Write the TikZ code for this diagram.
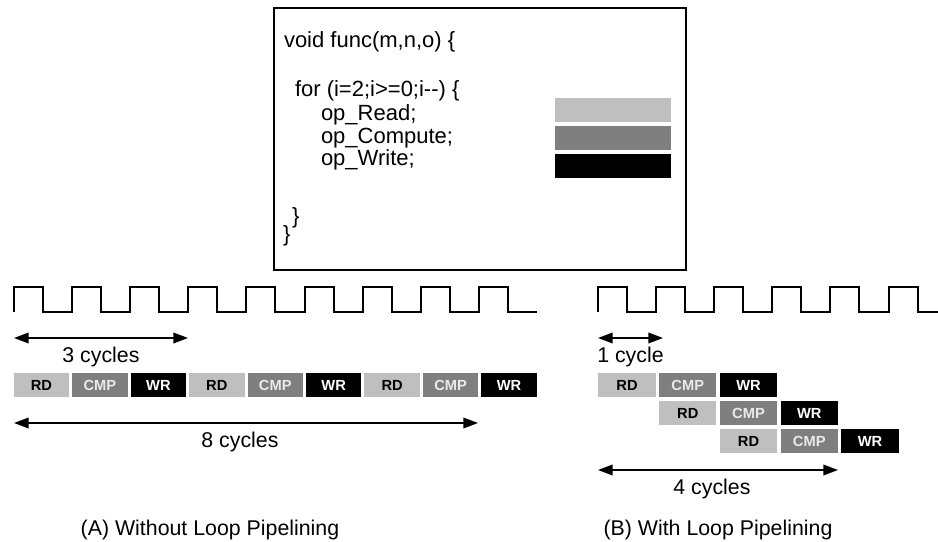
\documentclass[tikz,border=0pt]{standalone}
\usepackage{fontspec}
\setmainfont{Liberation Sans}
\definecolor{RD}{HTML}{BFBFBF}
\definecolor{CMP}{HTML}{7F7F7F}
\definecolor{WR}{HTML}{000000}
\definecolor{pale}{HTML}{EAEAEA}
\usetikzlibrary{arrows.meta}
\usetikzlibrary{positioning}
\tikzstyle{base}=[x=0.75pt, y=-0.75pt, inner sep=0pt, outer sep=0pt]
\tikzstyle{op}=[minimum height=18pt, font=\fontsize{11}{13}\selectfont\bfseries]
\tikzstyle{rdbox}=[op, fill=RD, text=black]
\tikzstyle{cmpbox}=[op, fill=CMP, text=pale]
\tikzstyle{wrbox}=[op, fill=WR, text=white]
\tikzstyle{clk}=[line width=1.5pt, line join=miter]
\tikzstyle{cyc}=[{Triangle[length=11pt,width=8pt]}-{Triangle[length=11pt,width=8pt]}, line width=1.1pt]
\tikzstyle{line}=[anchor=base west, font=\fontsize{16.5}{19}\selectfont]

\begin{document}
\begin{tikzpicture}[base]
    \fontsize{16}{19}\selectfont
    \path [use as bounding box] (0,0) rectangle (938,542);

    % the loop
    \node [draw, line width=2pt, minimum width=309pt, minimum height=196.5pt] (code) at (480,139) {};
    \node [line] (sig) at (284,48) {void func(m,n,o) \{};
    \node [line] (for) at (295,97) {for (i=2;i>=0;i-{}-) \{};
    \node [line] (rdline) at (321,120) {op\_Read;};
    \node [line] (cmpline) at (321,143) {op\_Compute;};
    \node [line] (wrline) at (321,165) {op\_Write;};
    \node [line] (endfor) at (292,223) {\}};
    \node [line] (endfunc) at (283,241) {\}};
    \node [fill=RD, minimum width=87pt, minimum height=18pt] (rdbar) at (613,110) {};
    \node [fill=CMP, minimum width=87pt, minimum height=18pt] (cmpbar) at (613,138) {};
    \node [fill=WR, minimum width=87pt, minimum height=18pt] (wrbar) at (613,166) {};

    % (A) without pipelining
    \draw [clk] (14,312) \foreach \k in {0,...,8} {
        -- ++(0,-25) -- ++(29.05,0) -- ++(0,25) -- ++(29.05,0)};
    \foreach \n/\st/\txt in {0/rdbox/RD,1/cmpbox/CMP,2/wrbox/WR,
                             3/rdbox/RD,4/cmpbox/CMP,5/wrbox/WR,
                             6/rdbox/RD,7/cmpbox/CMP,8/wrbox/WR}
        \node [\st, minimum width=41.6pt] (a\n) at (41.5+58.44*\n,385) {\txt};
    \coordinate (a3l) at (14,338);
    \coordinate (a3r) at (188,338);
    \coordinate (a8l) at (14,423);
    \coordinate (a8r) at (478,423);
    \draw [cyc] (a3l) -- node [midway, anchor=base, yshift=-18pt] (a3txt) {3 cycles} (a3r);
    \draw [cyc] (a8l) -- node [midway, anchor=base, yshift=-18pt, xshift=-4.5pt] (a8txt) {8 cycles} (a8r);
    \node [anchor=base] (capa) at (210,535) {(A) Without Loop Pipelining};

    % (B) with pipelining
    \draw [clk] (598,312) \foreach \k in {0,...,4} {
        -- ++(0,-25) -- ++(29.05,0) -- ++(0,25) -- ++(29.05,0)}
        -- ++(0,-25) -- ++(29.05,0) -- ++(0,25) -- (938,312);
    \foreach \r in {0,1,2}
        \foreach \c/\st/\txt in {0/rdbox/RD,1/cmpbox/CMP,2/wrbox/WR}
            \node [\st, minimum width=43.1pt] (b\r\c) at (627+60.75*\r+60.75*\c,385+28*\r) {\txt};
    \coordinate (b1l) at (598,338);
    \coordinate (b1r) at (663,338);
    \coordinate (b4l) at (598,470);
    \coordinate (b4r) at (838,470);
    \draw [cyc] (b1l) -- node [midway, anchor=base, yshift=-18pt] (b1txt) {1 cycle} (b1r);
    \draw [cyc] (b4l) -- node [midway, anchor=base, yshift=-18pt, xshift=-4.5pt] (b4txt) {4 cycles} (b4r);
    \node [anchor=base] (capb) at (718,535) {(B) With Loop Pipelining};
\end{tikzpicture}
\end{document}
